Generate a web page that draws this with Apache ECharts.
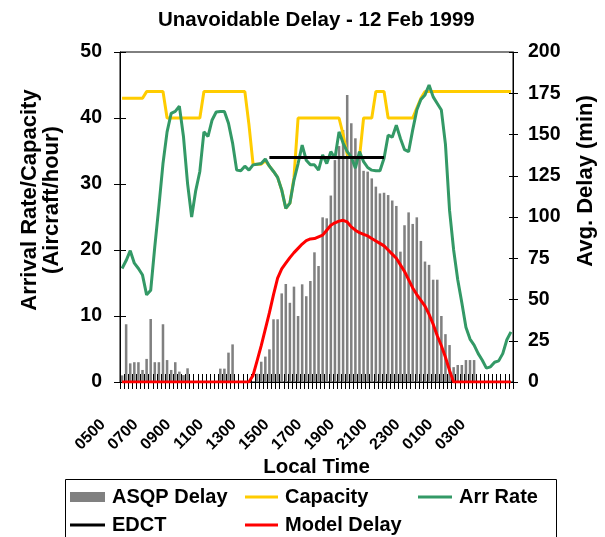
<!DOCTYPE html>
<html>
<head>
<meta charset="utf-8">
<script src="https://cdn.jsdelivr.net/npm/echarts@6/dist/echarts.min.js"></script>
<style>
  html, body { margin: 0; padding: 0; background: #fff; }
  #chart { width: 605px; height: 537px; }
</style>
</head>
<body>
<div id="chart"></div>
<script>
// 15-minute slots from 0500 local through 0445 next morning
var times = [];
for (var h = 0; h < 24; h++) {
  var hh = (5 + h) % 24;
  for (var q = 0; q < 60; q += 15) {
    times.push((hh < 10 ? '0' : '') + hh + (q < 10 ? '0' : '') + q);
  }
}

// ASQP average delay, minutes (right axis)
var asqpDelay = [
  4, 35, 11.3, 12, 12, 7.3, 14, 38.2, 12, 12, 35, 13.3, 7.3, 12, 6.3, 4.2,
  8.3, 0, 0, 0, 0, 0, 0, 0, 8.1, 8.1, 17.8, 22.8, 0, 0, 0, 0,
  0, 5, 12.3, 15.4, 19.8, 38, 38, 53.7, 59.4, 48, 57.8, 40, 59.2, 52, 61.2, 78.6,
  70.3, 99.8, 99.2, 113, 134.5, 143, 152.7, 174, 156.8, 147.7, 137.6, 128, 127.5, 123.4, 118.4, 114.3,
  114.7, 113.3, 110, 106.7, 79, 95, 102.8, 95.8, 99.8, 85.5, 73, 71, 62, 62, 40, 29,
  22.4, 9, 10.3, 10.3, 13.3, 13.3, 13.3, 0, 0, 0, 0, 0, 0, 0, 0, 0
];

// airport capacity, aircraft/hour (left axis)
var capacity = [
  43, 43, 43, 43, 43, 43, 44, 44, 44, 44, 44, 40, 40, 40, 40, 40,
  40, 40, 40, 40, 44, 44, 44, 44, 44, 44, 44, 44, 44, 44, 44, 39,
  33, 33, 33, 33.5, 32.7, 31.9, 31, 29.1, 26.3, 27.1, 31, 40, 40, 40, 40, 40,
  40, 40, 40, 40, 40, 40, 37.5, 34.5, 34, 34, 34, 40, 40, 40, 44, 44,
  44, 40, 40, 40, 40, 40, 40, 40, 41.5, 43, 44, 44, 44, 44, 44, 44,
  44, 44, 44, 44, 44, 44, 44, 44, 44, 44, 44, 44, 44, 44, 44, 44
];

// observed arrival rate, aircraft/hour (left axis)
var arrRate = [
  17.2, 18.4, 19.9, 18, 17.2, 16.2, 13.2, 13.9, 20.5, 26.6, 33.1, 37.9, 40.7, 41, 41.8, 37.2,
  30.1, 25, 29, 31.9, 37.9, 37.2, 39.7, 40.9, 41, 41, 39.2, 36.2, 32.1, 32, 32.7, 32.1,
  32.9, 33, 33.1, 33.8, 32.7, 31.9, 31, 29.1, 26.3, 27.1, 30.6, 33.1, 35.9, 33.6, 32.9, 32.9,
  32.1, 34.4, 33.1, 34.9, 33.9, 37.9, 36.2, 34.9, 34.1, 32.4, 34.9, 33.4, 32.5, 32.1, 32, 32,
  33.9, 37.4, 37.1, 38.9, 36.9, 35.2, 34.9, 38.2, 41.2, 42.8, 43.5, 45, 43.2, 42.2, 41.2, 36,
  26, 20, 15.5, 12, 8.3, 6.5, 5.6, 4.3, 3.3, 2.1, 2.3, 3, 3.2, 4.3, 6.4, 7.6
];

// EDCT program rate, only while the program ran (left axis)
var edct = [];
for (var k = 0; k < times.length; k++) edct.push(k >= 36 && k <= 64 ? 34 : null);

// modelled delay, minutes (right axis)
var modelDelay = [
  0, 0, 0, 0, 0, 0, 0, 0, 0, 0, 0, 0, 0, 0, 0, 0,
  0, 0, 0, 0, 0, 0, 0, 0, 0, 0, 0, 0, 0, 0, 0, 0,
  4, 13, 22, 32, 42, 53, 63, 68.5, 72, 75.4, 78.4, 81, 83.6, 85.7, 86.7, 86.9,
  88, 89, 92, 95, 96.5, 97.5, 98, 97, 94, 92, 90.5, 89.5, 88.5, 87, 85.5, 84,
  82.5, 80, 77.5, 75, 71, 67, 62, 57, 53, 49.5, 46, 41, 35, 28, 22, 15,
  7, 0, 0, 0, 0, 0, 0, 0, 0, 0, 0, 0, 0, 0, 0, 0
];

var font = "'Liberation Sans', Arial, sans-serif";
var bold = { fontFamily: font, fontWeight: 'bold', color: '#000' };

function legendAt(name, x, y, w, h) {
  return {
    data: [name], left: x, top: y, padding: 0,
    icon: 'rect', itemWidth: w, itemHeight: h,
    selectedMode: false,
    textStyle: { fontFamily: font, fontWeight: 'bold', fontSize: 20, color: '#000', padding: [0, 0, 0, 2] }
  };
}

var chart = echarts.init(document.getElementById('chart'));
chart.setOption({
  animation: false,
  title: {
    text: 'Unavoidable Delay - 12 Feb 1999',
    left: 153, top: 5,
    textStyle: { fontFamily: font, fontWeight: 'bold', fontSize: 20.5, color: '#000' }
  },
  grid: { left: 120, right: 89, top: 52, bottom: 155, show: true, borderColor: '#000', borderWidth: 1 },
  legend: [
    legendAt('ASQP Delay', 70, 487, 35, 10),
    legendAt('Capacity', 245, 487, 33, 3),
    legendAt('Arr Rate', 418, 487, 34, 3),
    legendAt('EDCT', 70, 515, 35, 3),
    legendAt('Model Delay', 245, 515, 33, 3)
  ],
  graphic: [{
    type: 'rect', shape: { x: 65.5, y: 479.5, width: 491, height: 70 },
    style: { fill: null, stroke: '#000', lineWidth: 1 }, silent: true
  }],
  xAxis: [{
    type: 'category', data: times, z: 4,
    name: 'Local Time', nameLocation: 'middle', nameGap: 75, nameMoveOverlap: false,
    nameTextStyle: { fontFamily: font, fontWeight: 'bold', fontSize: 20.5, color: '#000' },
    axisLine: { show: true, lineStyle: { color: '#000', width: 1 } },
    axisTick: { show: true, interval: 0, length: 7, lineStyle: { color: '#000' } },
    axisLabel: Object.assign({ show: true, interval: 7, rotate: 45, fontSize: 16, margin: 21, padding: [0, 27, 0, 0] }, bold),
    splitLine: { show: false }
  }, {
    type: 'category', data: times, z: 4, position: 'bottom',
    axisLine: { show: false },
    axisTick: { show: true, interval: 0, inside: true, length: 8, lineStyle: { color: '#000' } },
    axisLabel: { show: false }, splitLine: { show: false }
  }],
  yAxis: [{
    type: 'value', min: 0, max: 50, interval: 10, position: 'left',
    name: 'Arrival Rate/Capacity\n(Aircraft/hour)', nameLocation: 'middle', nameGap: 57, nameMoveOverlap: false,
    nameTextStyle: { fontFamily: font, fontWeight: 'bold', fontSize: 22, color: '#000', lineHeight: 22, padding: [0, 0, 0, 34] },
    axisLine: { show: true, lineStyle: { color: '#000' } },
    axisTick: { show: true, length: 6, lineStyle: { color: '#000' } },
    axisLabel: Object.assign({ fontSize: 19.5, margin: 18 }, bold),
    splitLine: { show: false }
  }, {
    type: 'value', min: 0, max: 200, interval: 25, position: 'right',
    name: 'Avg. Delay (min)', nameLocation: 'middle', nameGap: 62, nameMoveOverlap: false,
    nameTextStyle: { fontFamily: font, fontWeight: 'bold', fontSize: 22, color: '#000', padding: [0, 0, 0, 72] },
    axisLine: { show: true, lineStyle: { color: '#000' } },
    axisTick: { show: true, length: 5, lineStyle: { color: '#000' } },
    axisLabel: Object.assign({ fontSize: 19.5, margin: 15 }, bold),
    splitLine: { show: false }
  }, {
    type: 'value', min: 0, max: 50, interval: 10, position: 'left',
    axisLine: { show: false }, axisLabel: { show: false }, splitLine: { show: false },
    axisTick: { show: true, inside: true, length: 6, lineStyle: { color: '#000' } }
  }, {
    type: 'value', min: 0, max: 200, interval: 25, position: 'right',
    axisLine: { show: false }, axisLabel: { show: false }, splitLine: { show: false },
    axisTick: { show: true, inside: true, length: 4, lineStyle: { color: '#000' } }
  }],
  series: [{
    name: 'ASQP Delay', type: 'bar', yAxisIndex: 1, data: asqpDelay,
    barCategoryGap: '38%', itemStyle: { color: '#808080' }
  }, {
    name: 'Capacity', type: 'line', yAxisIndex: 0, data: capacity,
    symbol: 'none', lineStyle: { color: '#FFCC00', width: 3 }, itemStyle: { color: '#FFCC00' }
  }, {
    name: 'Arr Rate', type: 'line', yAxisIndex: 0, data: arrRate,
    symbol: 'none', lineStyle: { color: '#339966', width: 3 }, itemStyle: { color: '#339966' }
  }, {
    name: 'EDCT', type: 'line', yAxisIndex: 0, data: edct,
    symbol: 'none', lineStyle: { color: '#000', width: 3 }, itemStyle: { color: '#000' }
  }, {
    name: 'Model Delay', type: 'line', yAxisIndex: 1, data: modelDelay, z: 5,
    symbol: 'none', lineStyle: { color: '#FF0000', width: 3 }, itemStyle: { color: '#FF0000' }
  }]
});
</script>
</body>
</html>
